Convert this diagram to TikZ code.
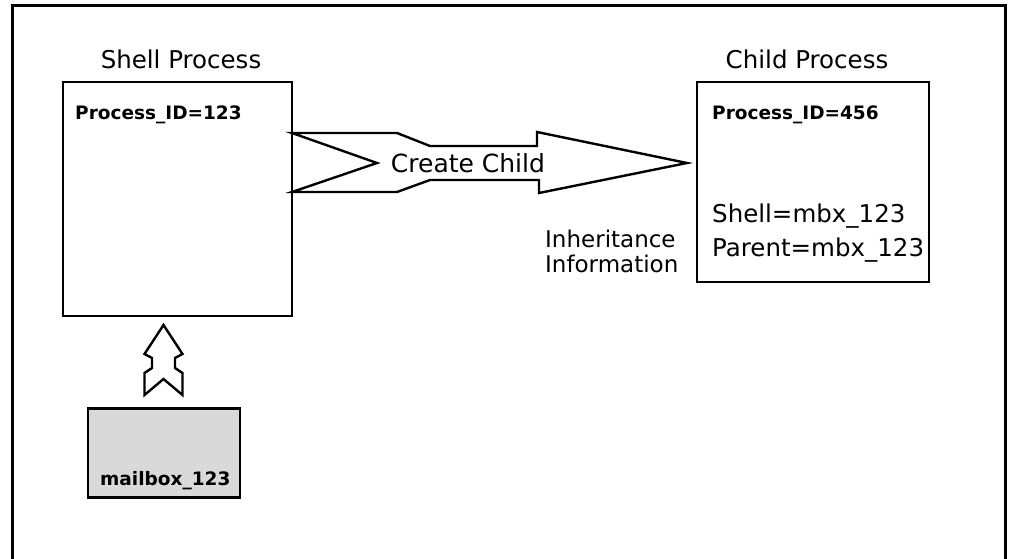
\documentclass[tikz,border=0pt]{standalone}
\usepackage{fontspec}
\setmainfont{DejaVu Sans}
\begin{document}
\begin{tikzpicture}[x=1pt,y=-1pt,
  procbox/.style={draw=black,line width=2.4pt,inner sep=0pt,fill=white},
  title/.style={font=\fontsize{24.5}{28}\selectfont,anchor=base},
  idtext/.style={font=\bfseries\fontsize{18.5}{22}\selectfont,anchor=base west,inner sep=0pt},
  field/.style={font=\fontsize{24.5}{29}\selectfont,anchor=base west,inner sep=0pt},
  bigarrow/.style={draw=black,line width=2.4pt,line join=miter,fill=white}]
\useasboundingbox (0,0) rectangle (1009,559);

% outer frame (open at the bottom)
\draw[line width=3pt] (12,559) -- (12,6) -- (1005,6) -- (1005,559);

% process boxes
\node[procbox,minimum width=229pt,minimum height=234pt] (shell) at (177.5,199) {};
\node[procbox,minimum width=232pt,minimum height=200pt] (child) at (813,182) {};
\node[title] (shelltitle) at (181,69) {Shell Process};
\node[title] (childtitle) at (807,69) {Child Process};

\node[idtext] (shellid) at (75,120) {Process\_ID=123};
\node[idtext] (childid) at (712,120) {Process\_ID=456};
\node[field] (shellfield) at (712,222) {Shell=mbx\_123};
\node[field] (parentfield) at (712,256) {Parent=mbx\_123};

% create-child arrow from the shell box to the child box
\draw[bigarrow] (292,133) -- (397,133) -- (430,146) -- (537,146) -- (537,132)
  -- (687,163) -- (539,193) -- (539,180) -- (430,180) -- (397,192)
  -- (292,192) -- (377,163) -- cycle;
\node[font=\fontsize{25}{28}\selectfont,inner sep=0pt] (create) at (468,163) {Create Child};

\node[align=left,anchor=north west,inner sep=0pt,
  font=\fontsize{23}{25}\selectfont] (inherit) at (545,230) {Inheritance\\Information};

% mailbox and its arrow up into the shell box
\node[draw=black,line width=2.4pt,fill=black!15,inner sep=0pt,
  minimum width=152pt,minimum height=89pt] (mailbox) at (164,453) {};
\node[idtext] (mbxlabel) at (100,485) {mailbox\_123};
\draw[bigarrow] (163.5,325) -- (182.5,354) -- (175,358) -- (175,368)
  -- (182.5,373) -- (182.5,395) -- (163.5,379) -- (144.5,395)
  -- (144.5,373) -- (152,368) -- (152,358) -- (144.5,354) -- cycle;
\end{tikzpicture}
\end{document}
